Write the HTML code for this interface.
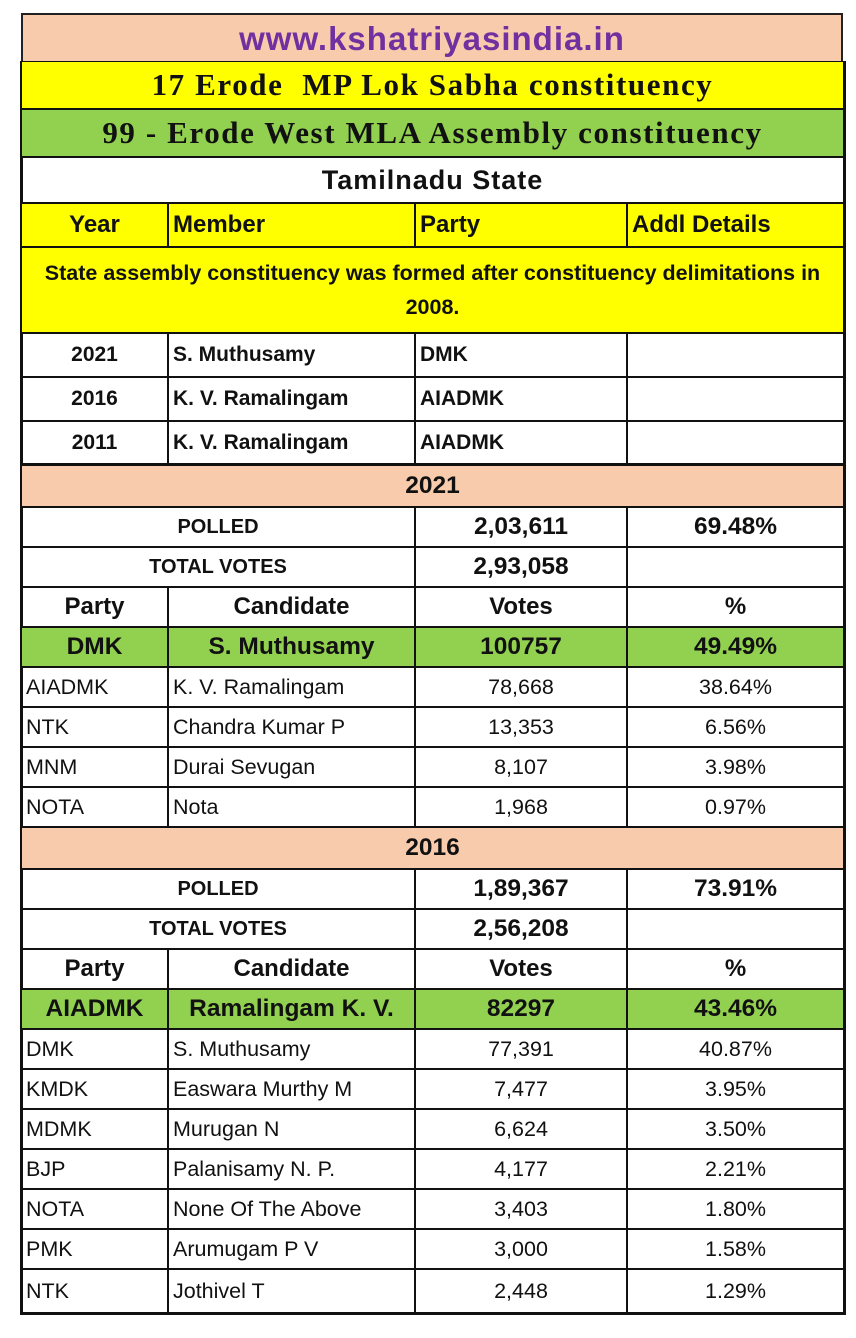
<!DOCTYPE html>
<html><head><meta charset="utf-8"><style>
body{margin:0;width:856px;height:1338px;background:#fff;position:relative;overflow:hidden;font-family:"Liberation Sans",Arial,sans-serif;}
.r{position:absolute;left:22px;width:821px;display:flex;box-sizing:border-box;border-bottom:2px solid #111;}
.c{box-sizing:border-box;border-right:2px solid #111;display:flex;align-items:center;justify-content:center;overflow:hidden;white-space:nowrap;font-size:21.5px;color:#111;}
.c:last-child{border-right:none;}
.w1{width:147px}.w2{width:247px}.w3{width:212px}.w4{width:215px}.w12{width:394px}.wa{width:821px}
.l{justify-content:flex-start;padding-left:4px}
.b{font-weight:bold;font-size:21px}
.pl{font-weight:bold;font-size:20px}
.y{background:#ffff00}.g{background:#92d050}.p{background:#f8cbad}
.ser{font-family:"Liberation Serif",serif;font-weight:bold;font-size:31px;letter-spacing:1.6px}
.hd{font-weight:bold;font-size:24px;}
.big{font-weight:bold;font-size:24.5px;}
</style></head><body>
<div style="position:absolute;left:21px;top:13px;width:822px;height:50px;box-sizing:border-box;border:2px solid #222;border-bottom:none;background:#f8cbad;text-align:center;font-weight:bold;font-size:33px;letter-spacing:1px;color:#7030a0;line-height:48px;">www.kshatriyasindia.in</div>
<div style="position:absolute;left:20px;top:61px;width:826px;height:1254px;box-sizing:border-box;border:3px solid #111;"></div>
<div class="r y" style="top:62px;height:48px"><div class="c wa ser">17 Erode&nbsp; MP Lok Sabha constituency</div></div>
<div class="r g" style="top:110px;height:48px"><div class="c wa ser">99 - Erode West MLA Assembly constituency</div></div>
<div class="r" style="top:158px;height:46px"><div class="c wa" style="font-weight:bold;font-size:27px;letter-spacing:1px">Tamilnadu State</div></div>
<div class="r y" style="top:204px;height:44px"><div class="c w1 hd">Year</div><div class="c w2 hd l">Member</div><div class="c w3 hd l">Party</div><div class="c w4 hd l">Addl Details</div></div>
<div class="r y" style="top:248px;height:86px"><div class="c wa" style="font-weight:bold;white-space:normal;text-align:center;line-height:34px;padding:0 8px;font-size:21.5px">State assembly constituency was formed after constituency delimitations in 2008.</div></div>
<div class="r" style="top:334px;height:44px"><div class="c w1 b">2021</div><div class="c w2 b l">S. Muthusamy</div><div class="c w3 b l">DMK</div><div class="c w4"></div></div>
<div class="r" style="top:378px;height:44px"><div class="c w1 b">2016</div><div class="c w2 b l">K. V. Ramalingam</div><div class="c w3 b l">AIADMK</div><div class="c w4"></div></div>
<div class="r" style="top:422px;height:44px;border-bottom-width:3px"><div class="c w1 b">2011</div><div class="c w2 b l">K. V. Ramalingam</div><div class="c w3 b l">AIADMK</div><div class="c w4"></div></div>
<div class="r p" style="top:466px;height:42px"><div class="c wa big">2021</div></div>
<div class="r" style="top:508px;height:40px"><div class="c w12 pl">POLLED</div><div class="c w3 big">2,03,611</div><div class="c w4 big">69.48%</div></div>
<div class="r" style="top:548px;height:40px"><div class="c w12 pl">TOTAL VOTES</div><div class="c w3 big">2,93,058</div><div class="c w4"></div></div>
<div class="r" style="top:588px;height:40px"><div class="c w1 hd">Party</div><div class="c w2 hd">Candidate</div><div class="c w3 hd">Votes</div><div class="c w4 hd">%</div></div>
<div class="r g" style="top:628px;height:40px"><div class="c w1 big">DMK</div><div class="c w2 big">S. Muthusamy</div><div class="c w3 big">100757</div><div class="c w4 big">49.49%</div></div>
<div class="r" style="top:668px;height:40px"><div class="c w1 l">AIADMK</div><div class="c w2 l">K. V. Ramalingam</div><div class="c w3">78,668</div><div class="c w4">38.64%</div></div>
<div class="r" style="top:708px;height:40px"><div class="c w1 l">NTK</div><div class="c w2 l">Chandra Kumar P</div><div class="c w3">13,353</div><div class="c w4">6.56%</div></div>
<div class="r" style="top:748px;height:40px"><div class="c w1 l">MNM</div><div class="c w2 l">Durai Sevugan</div><div class="c w3">8,107</div><div class="c w4">3.98%</div></div>
<div class="r" style="top:788px;height:40px"><div class="c w1 l">NOTA</div><div class="c w2 l">Nota</div><div class="c w3">1,968</div><div class="c w4">0.97%</div></div>
<div class="r p" style="top:828px;height:42px"><div class="c wa big">2016</div></div>
<div class="r" style="top:870px;height:40px"><div class="c w12 pl">POLLED</div><div class="c w3 big">1,89,367</div><div class="c w4 big">73.91%</div></div>
<div class="r" style="top:910px;height:40px"><div class="c w12 pl">TOTAL VOTES</div><div class="c w3 big">2,56,208</div><div class="c w4"></div></div>
<div class="r" style="top:950px;height:40px"><div class="c w1 hd">Party</div><div class="c w2 hd">Candidate</div><div class="c w3 hd">Votes</div><div class="c w4 hd">%</div></div>
<div class="r g" style="top:990px;height:40px"><div class="c w1 big">AIADMK</div><div class="c w2 big">Ramalingam K. V.</div><div class="c w3 big">82297</div><div class="c w4 big">43.46%</div></div>
<div class="r" style="top:1030px;height:40px"><div class="c w1 l">DMK</div><div class="c w2 l">S. Muthusamy</div><div class="c w3">77,391</div><div class="c w4">40.87%</div></div>
<div class="r" style="top:1070px;height:40px"><div class="c w1 l">KMDK</div><div class="c w2 l">Easwara Murthy M</div><div class="c w3">7,477</div><div class="c w4">3.95%</div></div>
<div class="r" style="top:1110px;height:40px"><div class="c w1 l">MDMK</div><div class="c w2 l">Murugan N</div><div class="c w3">6,624</div><div class="c w4">3.50%</div></div>
<div class="r" style="top:1150px;height:40px"><div class="c w1 l">BJP</div><div class="c w2 l">Palanisamy N. P.</div><div class="c w3">4,177</div><div class="c w4">2.21%</div></div>
<div class="r" style="top:1190px;height:40px"><div class="c w1 l">NOTA</div><div class="c w2 l">None Of The Above</div><div class="c w3">3,403</div><div class="c w4">1.80%</div></div>
<div class="r" style="top:1230px;height:40px"><div class="c w1 l">PMK</div><div class="c w2 l">Arumugam P V</div><div class="c w3">3,000</div><div class="c w4">1.58%</div></div>
<div class="r" style="top:1270px;height:42px;border-bottom:none"><div class="c w1 l">NTK</div><div class="c w2 l">Jothivel T</div><div class="c w3">2,448</div><div class="c w4">1.29%</div></div>
</body></html>
